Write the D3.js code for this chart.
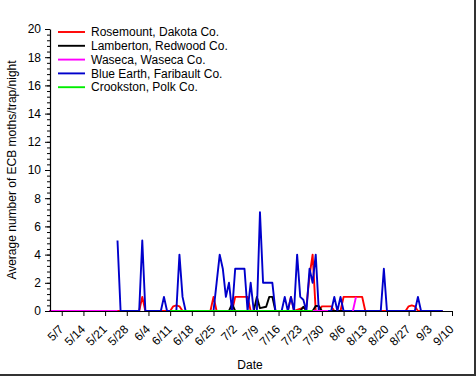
<!DOCTYPE html>
<html>
<head>
<meta charset="utf-8">
<script src="https://cdn.jsdelivr.net/npm/d3@7"></script>
<style>
  body { margin: 0; background: #fff; }
  svg text { font-family: "Liberation Sans", Arial, sans-serif; fill: #000; }
</style>
</head>
<body>
<div id="chart"></div>
<script>
// Series names, in legend order
const seriesNames = [
  "Rosemount, Dakota Co.",
  "Lamberton, Redwood Co.",
  "Waseca, Waseca Co.",
  "Blue Earth, Faribault Co.",
  "Crookston, Polk Co."
];
const seriesColors = ["#ff0000", "#000000", "#ff00ff", "#0000cc", "#00ee00"];

// x tick labels (weekly)
const xTickLabels = ["5/7", "5/14", "5/21", "5/28", "6/4", "6/11", "6/18", "6/25", "7/2",
  "7/9", "7/16", "7/23", "7/30", "8/6", "8/13", "8/20", "8/27", "9/3", "9/10"];
const yTickLabels = [0, 2, 4, 6, 8, 10, 12, 14, 16, 18, 20];

// [date, moths/trap/night]; null marks a gap
const rosemount = [
  ["5/3", 0], ["6/1", 0], ["6/2", 1], ["6/3", 0], ["6/11", 0], ["6/12", 0.33], ["6/13", 0.4],
  ["6/14", 0.33], ["6/15", 0], ["6/24", 0], ["6/25", 1], ["6/26", 0], ["7/1", 0], ["7/2", 1],
  ["7/6", 1], ["7/7", 0], ["7/19", 0], ["7/20", 1], ["7/21", 0], ["7/25", 0.3], ["7/26", 2.5],
  ["7/27", 4], ["7/28", 0], ["7/29", 0], ["7/30", 0.33], ["8/2", 0.33], ["8/3", 0], ["8/5", 0],
  ["8/6", 1], ["8/12", 1], ["8/13", 0], ["8/26", 0], ["8/27", 0.33], ["8/28", 0.4],
  ["8/29", 0.33], ["8/30", 0], ["9/7", 0]
];
const lamberton = [
  ["6/25", 0], ["6/30", 0], ["7/1", 0.5], ["7/2", 0], ["7/8", 0], ["7/9", 1], ["7/10", 0.2],
  ["7/12", 0.3], ["7/13", 1], ["7/14", 1], ["7/15", 0], ["7/23", 0], ["7/24", 0.3], ["7/25", 0],
  ["7/27", 0], ["7/28", 0.35], ["7/29", 0.35], ["7/30", 0], ["8/15", 0]
];
const waseca = [
  ["5/3", 0], ["5/25", 0], null, ["7/27", 0], ["8/1", 0], null, ["8/9", 0], ["8/10", 1]
];
const blueEarth = [
  ["5/25", 5], ["5/26", 0], ["6/1", 0], ["6/2", 5], ["6/3", 0], ["6/8", 0], ["6/9", 1], ["6/10", 0],
  ["6/13", 0], ["6/14", 4], ["6/15", 1], ["6/16", 0], ["6/25", 0], ["6/26", 2], ["6/27", 4],
  ["6/28", 3], ["6/29", 1], ["6/30", 2], ["7/1", 0], ["7/2", 3], ["7/5", 3], ["7/6", 0],
  ["7/7", 2], ["7/8", 0], ["7/9", 0], ["7/10", 7], ["7/11", 2], ["7/14", 2], ["7/15", 0],
  ["7/17", 0], ["7/18", 1], ["7/19", 0], ["7/20", 1], ["7/21", 0], ["7/22", 4], ["7/23", 1],
  ["7/24", 0.8], ["7/25", 0], ["7/26", 3], ["7/27", 2], ["7/28", 4], ["7/29", 0], ["8/2", 0],
  ["8/3", 1], ["8/4", 0], ["8/5", 1], ["8/6", 0], ["8/18", 0], ["8/19", 3], ["8/20", 0],
  ["8/29", 0], ["8/30", 1], ["8/31", 0], ["9/7", 0]
];
const crookston = [["6/11", 0], ["7/27", 0]];

// drawing order: red, black, blue, magenta, green on top
const drawOrder = [
  { data: rosemount, i: 0 },
  { data: lamberton, i: 1 },
  { data: blueEarth, i: 3 },
  { data: waseca, i: 2 },
  { data: crookston, i: 4 }
];

const parseDay = s => {
  const [m, d] = s.split("/").map(Number);
  return new Date(2010, m - 1, d);
};

const width = 476, height = 376;
const svg = d3.select("#chart").append("svg")
  .attr("width", width)
  .attr("height", height);

// Scales
const x = d3.scaleTime()
  .domain([new Date(2010, 4, 3, 5), parseDay("9/10")])
  .range([50, 452]);
const y = d3.scaleLinear().domain([0, 20]).range([311, 29]);

// Lines
const line = d3.line()
  .defined(d => d !== null)
  .x(d => x(parseDay(d[0])))
  .y(d => y(d[1]));

drawOrder.forEach(s => {
  svg.append("path")
    .datum(s.data)
    .attr("fill", "none")
    .attr("stroke", seriesColors[s.i])
    .attr("stroke-width", 1.9)
    .attr("stroke-linejoin", "round")
    .attr("d", line);
});

// Y axis: minor then major ticks
svg.append("g")
  .attr("transform", "translate(50,0)")
  .call(d3.axisLeft(y).tickValues(d3.range(0, 20.01, 0.4)).tickSize(3).tickFormat(""))
  .call(g => g.select(".domain").remove())
  .call(g => g.selectAll("line").attr("stroke", "#000"));

svg.append("g")
  .attr("transform", "translate(50,0)")
  .call(d3.axisLeft(y).tickValues(yTickLabels).tickSize(5).tickPadding(4).tickSizeOuter(0))
  .call(g => g.select(".domain").attr("stroke", "#000").attr("stroke-width", 1.2))
  .call(g => g.selectAll("text").attr("font-size", 12).style("font-family", "Liberation Sans, Arial, sans-serif"));

// X axis
svg.append("g")
  .attr("transform", "translate(0,311)")
  .call(d3.axisBottom(x).tickValues(xTickLabels.map(parseDay)).tickSize(5)
    .tickSizeOuter(0).tickFormat(d3.timeFormat("%-m/%-d")))
  .call(g => g.select(".domain").attr("stroke", "#000").attr("stroke-width", 1.2))
  .call(g => g.selectAll("text")
    .attr("font-size", 12)
    .style("font-family", "Liberation Sans, Arial, sans-serif")
    .attr("text-anchor", "end")
    .attr("dy", 0)
    .attr("y", 0)
    .attr("transform", "translate(2,19) rotate(-45)"));

// Axis titles
svg.append("text")
  .attr("x", 250)
  .attr("y", 369)
  .attr("text-anchor", "middle")
  .attr("font-size", 12)
  .text("Date");

svg.append("text")
  .attr("transform", "translate(16,170) rotate(-90)")
  .attr("text-anchor", "middle")
  .attr("font-size", 12)
  .text("Average number of ECB moths/trap/night");

// Legend
const legend = svg.append("g").attr("transform", "translate(58,32)");
seriesNames.forEach((name, i) => {
  const row = legend.append("g").attr("transform", `translate(0,${i * 13.8})`);
  row.append("line")
    .attr("x1", 0).attr("x2", 27)
    .attr("stroke", seriesColors[i])
    .attr("stroke-width", 1.9);
  row.append("text")
    .attr("x", 33)
    .attr("dy", "0.35em")
    .attr("font-size", 12)
    .text(name);
});

// outer frame (right and bottom edges of the picture)
svg.append("path")
  .attr("d", `M${width - 1},0V${height - 1}H0`)
  .attr("fill", "none")
  .attr("stroke", "#333")
  .attr("stroke-width", 2);
</script>
</body>
</html>
